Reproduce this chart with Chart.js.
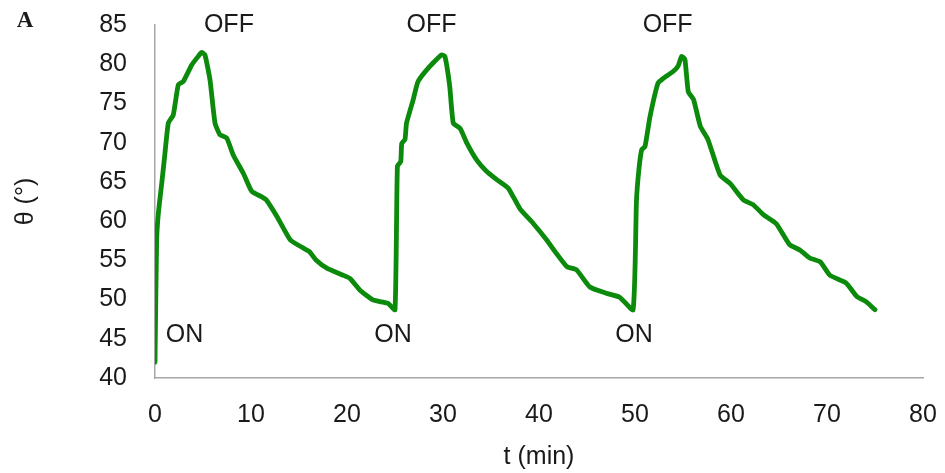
<!DOCTYPE html>
<html>
<head>
<meta charset="utf-8">
<script src="https://cdn.jsdelivr.net/npm/chart.js@4/dist/chart.umd.min.js"></script>
<style>
  body { margin: 0; background: #fff; }
  #wrap { width: 945px; height: 473px; }
</style>
</head>
<body>
<div id="wrap"><canvas id="thetaChart"></canvas></div>
<script>
// time (min) and contact angle theta (deg), one ON/OFF cycle per line
const times = [0, 0.17, 0.35, 0.7, 1.0, 1.39, 1.9, 2.43, 2.95, 3.82, 4.5, 4.86, 5.2, 5.73, 6.25, 6.77, 7.47, 8.16, 9.2, 10.07, 11.1, 11.6, 12.7, 14.1, 15.4, 16.1, 16.8, 17.9, 19.6, 20.3, 21.35, 22.7, 23.6, 24.3, 25.0,
  25.25, 25.6, 25.7, 26.04, 26.2, 26.9, 27.4, 28.6, 29.86, 30.2, 30.7, 31.07, 31.8, 32.5, 33.5, 34.5, 35.6, 36.8, 38.0, 39.4, 40.8, 41.8, 42.9, 43.9, 45.3, 47.0, 48.4, 49.8,
  50.15, 50.4, 50.7, 51.04, 51.56, 52.4, 52.95, 54.0, 54.5, 54.86, 55.2, 55.55, 56.1, 56.8, 57.6, 58.85, 59.9, 61.3, 62.3, 63.4, 64.7, 66.1, 67.2, 68.2, 69.3, 70.3, 72.0, 73.1, 74.1, 75.0];
const theta = [42, 57.5, 61, 64.8, 68.2, 72.5, 73.5, 77.4, 77.8, 79.9, 81, 81.5, 81.2, 78, 72.5, 71, 70.6, 68.4, 66.1, 63.8, 63.1, 62.7, 60.6, 57.6, 56.6, 56.1, 55, 54, 53.1, 52.7, 51.2, 49.95, 49.7, 49.5, 48.7,
  67, 67.6, 69.9, 70.4, 72.5, 75.5, 77.8, 79.7, 81.2, 81, 77.2, 72.5, 71.8, 69.9, 67.8, 66.4, 65.3, 64.2, 61.6, 59.7, 57.6, 55.9, 54.2, 53.8, 51.6, 50.8, 50.3, 48.7,
  62.5, 66.5, 69.1, 69.5, 73.3, 77.6, 78.2, 79.1, 79.8, 81, 80.6, 76.5, 75.5, 72.1, 70.4, 65.9, 64.8, 62.7, 62.1, 60.8, 59.7, 57, 56.3, 55.3, 54.8, 53.1, 52.1, 50.4, 49.7, 48.7];

// ON / OFF markers (data coordinates)
const markText = ['ON', 'OFF', 'ON', 'OFF', 'ON', 'OFF'];
const markT = [3.07, 7.7, 24.8, 28.8, 49.9, 53.4];
const markTheta = [45.5, 85, 45.5, 85, 45.5, 85];

const xTicks = [0, 10, 20, 30, 40, 50, 60, 70, 80];
const yTicks = [40, 45, 50, 55, 60, 65, 70, 75, 80, 85];

const FONT = "'Liberation Sans', Arial, sans-serif";
const TXT = '#1a1a1a';

const markLabels = {
  id: 'markLabels',
  afterDatasetsDraw(chart) {
    const { ctx, scales: { x, y } } = chart;
    ctx.save();
    ctx.font = '25px ' + FONT;
    ctx.fillStyle = TXT;
    ctx.textAlign = 'center';
    ctx.textBaseline = 'middle';
    markText.forEach((t, i) => {
      ctx.fillText(t, x.getPixelForValue(markT[i]), y.getPixelForValue(markTheta[i]));
    });
    // panel letter
    ctx.font = "bold 23px 'Liberation Serif', serif";
    ctx.fillText('A', 25, 21);
    ctx.restore();
  }
};

new Chart(document.getElementById('thetaChart'), {
  type: 'line',
  data: {
    datasets: [{
      label: 'theta',
      data: times.map((t, i) => ({ x: t, y: theta[i] })),
      borderColor: '#0b8a0b',
      borderWidth: 4.8,
      borderJoinStyle: 'round',
      borderCapStyle: 'round',
      pointRadius: 0,
      tension: 0.15,
      fill: false
    }]
  },
  options: {
    responsive: true,
    maintainAspectRatio: false,
    animation: false,
    layout: { padding: { top: 25, right: 22, bottom: 0, left: 0 } },
    plugins: { legend: { display: false }, tooltip: { enabled: false } },
    scales: {
      x: {
        type: 'linear',
        min: 0, max: 80,
        afterBuildTicks: s => { s.ticks = xTicks.map(v => ({ value: v })); },
        afterFit: s => { s.height = 95; s.paddingLeft = 0; s.paddingRight = 0; },
        grid: { display: false },
        border: { display: true, color: '#a6a6a6', width: 1.5 },
        ticks: { font: { family: FONT, size: 25 }, color: TXT, padding: 14, maxRotation: 0 },
        title: { display: true, text: 't (min)', font: { family: FONT, size: 25 }, color: TXT, padding: { bottom: 1 } }
      },
      y: {
        min: 40, max: 85,
        afterBuildTicks: s => { s.ticks = yTicks.map(v => ({ value: v })); },
        afterFit: s => { s.width = 155; s.paddingTop = 0; s.paddingBottom = 0; },
        grid: { display: false },
        border: { display: true, color: '#a6a6a6', width: 1.5 },
        ticks: { font: { family: FONT, size: 25 }, color: TXT, padding: 20 },
        title: { display: true, text: 'θ (°)', font: { family: FONT, size: 25 }, color: TXT, padding: { top: 11 } }
      }
    }
  },
  plugins: [markLabels]
});
</script>
</body>
</html>
